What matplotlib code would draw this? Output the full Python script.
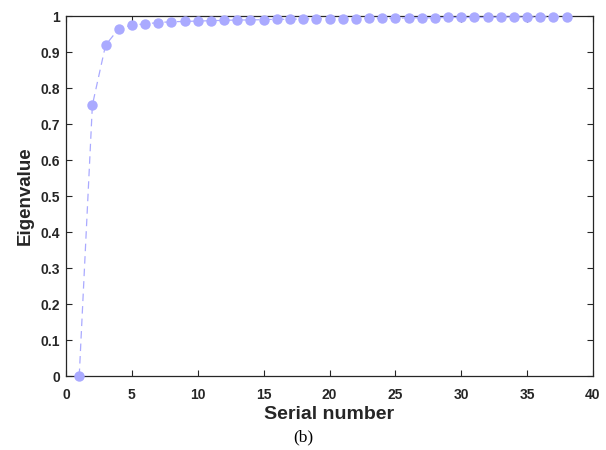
import numpy as np
import matplotlib
matplotlib.use("Agg")
import matplotlib.pyplot as plt

serial = np.arange(1, 39)
eigen = [0.0, 0.753, 0.919, 0.965, 0.975, 0.978, 0.982, 0.984, 0.985, 0.986,
         0.987, 0.988, 0.989, 0.989, 0.990, 0.991, 0.991, 0.992, 0.992, 0.993,
         0.993, 0.993, 0.994, 0.994, 0.994, 0.995, 0.995, 0.995, 0.996, 0.996,
         0.996, 0.996, 0.997, 0.997, 0.997, 0.997, 0.998, 0.998]

plt.rcParams['font.family'] = ['Liberation Sans', 'DejaVu Sans']

fig = plt.figure(figsize=(6.06, 4.5), dpi=100)
ax = fig.add_axes([0.109, 0.1644, 0.8695, 0.80])
ax.plot(serial, eigen, color='#aaaaff', linestyle=(0, (6, 4)), linewidth=0.9,
        marker='o', markersize=7.5, markeredgewidth=0, clip_on=False, zorder=3)

ax.set_xlim(0, 40)
ax.set_ylim(0, 1)
ax.set_xticks(np.arange(0, 41, 5))
ax.set_yticks(np.arange(0, 1.01, 0.1))
ax.set_yticklabels(['0', '0.1', '0.2', '0.3', '0.4', '0.5', '0.6', '0.7', '0.8', '0.9', '1'])
ax.tick_params(direction='in', top=True, right=True, length=4, width=0.8,
               colors='#262626', labelsize=10)
ax.tick_params(axis='x', pad=8.5)
ax.tick_params(axis='y', pad=4.5)
for lab in ax.get_xticklabels() + ax.get_yticklabels():
    lab.set_fontweight('bold')
for s in ax.spines.values():
    s.set_color('#262626')
    s.set_linewidth(0.9)

ax.set_xlabel('Serial number', fontsize=14, fontweight='bold', labelpad=3, color='#262626')
ax.set_ylabel('Eigenvalue', fontsize=13.5, fontweight='bold', labelpad=5, color='#262626')
fig.text(0.5, 0.028, '(b)', ha='center', va='center', fontsize=12.5,
         family=['Liberation Serif', 'DejaVu Serif'])

fig.savefig('out.png', dpi=100)
